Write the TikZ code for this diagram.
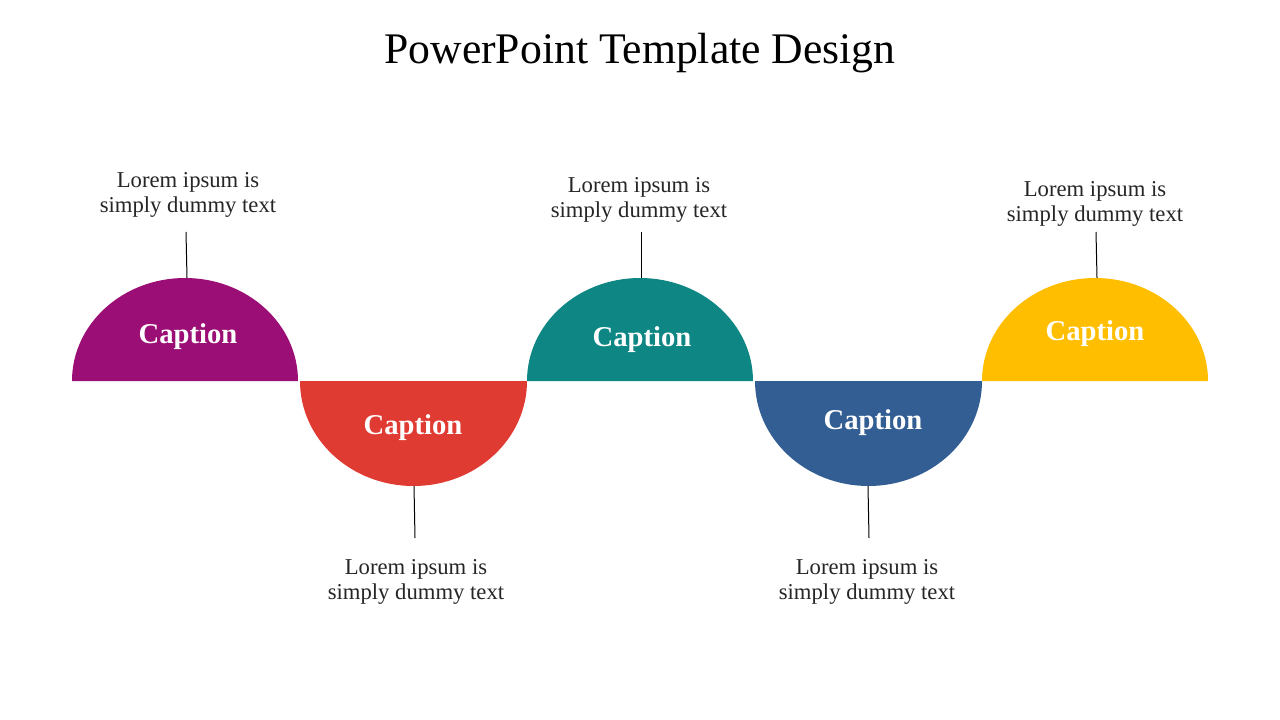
\documentclass[tikz,border=0pt]{standalone}
\usepackage{fontspec}
\setmainfont{Liberation Serif}
\definecolor{cpurple}{HTML}{9B0E75}
\definecolor{cred}{HTML}{E03B33}
\definecolor{cteal}{HTML}{0E8684}
\definecolor{cblue}{HTML}{325E94}
\definecolor{cyellow}{HTML}{FFBF00}
\definecolor{ctext}{HTML}{262626}
\begin{document}
\begin{tikzpicture}[x=0.75pt,y=-0.75pt,
  lorem/.style={align=center,inner sep=0pt,text=ctext,font=\fontsize{17pt}{18.75pt}\selectfont},
  captext/.style={inner sep=0pt,text=white,font=\bfseries\fontsize{21.5pt}{24pt}\selectfont},
  stem/.style={draw=black,line width=0.75pt}]
\useasboundingbox[fill=white] (0,0) rectangle (1280,720);
\node[font=\fontsize{32.75pt}{38pt}\selectfont] (title) at (640,53) {PowerPoint Template Design};
% shapes
\fill[cpurple] (72,381) arc[start angle=180,end angle=0,x radius=84.75pt,y radius=77.25pt] -- cycle;
\fill[cred] (300,381) arc[start angle=180,end angle=360,x radius=85.125pt,y radius=78.75pt] -- cycle;
\fill[cteal] (527,381) arc[start angle=180,end angle=0,x radius=84.75pt,y radius=77.25pt] -- cycle;
\fill[cblue] (755,381) arc[start angle=180,end angle=360,x radius=85.125pt,y radius=78.75pt] -- cycle;
\fill[cyellow] (982,381) arc[start angle=180,end angle=0,x radius=84.75pt,y radius=77.25pt] -- cycle;
% captions
\node[captext] (c1) at (188,337) {Caption};
\node[captext] (c2) at (413,428) {Caption};
\node[captext] (c3) at (642,340) {Caption};
\node[captext] (c4) at (873,423) {Caption};
\node[captext] (c5) at (1095,334) {Caption};
% texts
\node[lorem] (t1) at (188,195) {Lorem ipsum is\\simply dummy text};
\node[lorem] (t2) at (416,582) {Lorem ipsum is\\simply dummy text};
\node[lorem] (t3) at (639,200) {Lorem ipsum is\\simply dummy text};
\node[lorem] (t4) at (867,582) {Lorem ipsum is\\simply dummy text};
\node[lorem] (t5) at (1095,204) {Lorem ipsum is\\simply dummy text};
% stem ends
\coordinate (a1) at (186,232); \coordinate (b1) at (187,278);
\coordinate (a2) at (415,538); \coordinate (b2) at (414,486);
\coordinate (a3) at (641,232); \coordinate (b3) at (641,278);
\coordinate (a4) at (869,538); \coordinate (b4) at (868,486);
\coordinate (a5) at (1096,232); \coordinate (b5) at (1097,278);
\foreach \i in {1,...,5}{\draw[stem] (a\i) -- (b\i);}
\end{tikzpicture}
\end{document}
